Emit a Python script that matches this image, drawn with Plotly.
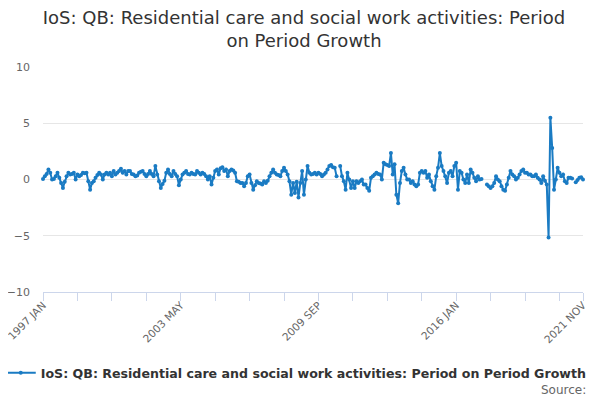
import plotly.graph_objects as go

# months Jan 1997 .. Nov 2021
years = list(range(1997, 2022))
months = ['JAN', 'FEB', 'MAR', 'APR', 'MAY', 'JUN', 'JUL', 'AUG', 'SEP', 'OCT', 'NOV', 'DEC']

# period on period growth (%), one list per year
g1997 = [0.05, 0.3, 0.5, 0.9, 0.6, 0.0, 0.05, 0.3, 0.6, 0.15, -0.3, -0.75]
g1998 = [-0.2, 0.3, 0.6, 0.45, 0.5, 0.6, 0.0, 0.45, 0.3, 0.4, 0.6, 0.55]
g1999 = [0.6, -0.15, -0.9, -0.3, -0.15, 0.15, 0.4, 0.6, 0.45, 0.0, 0.45, 0.6]
g2000 = [0.45, 0.6, 0.3, 0.75, 0.45, 0.6, 0.75, 0.95, 0.6, 0.75, 0.45, 0.75]
g2001 = [0.75, 0.5, 0.45, 0.3, 0.35, 0.6, 0.7, 0.75, 0.5, 0.3, 0.5, 0.75]
g2002 = [0.5, 0.3, 1.2, 0.45, -0.15, -0.75, -0.4, -0.1, 0.6, 0.9, 0.5, 0.3]
g2003 = [0.75, 0.5, 0.3, -0.5, 0.0, 0.45, 0.6, 0.75, 0.5, 0.45, 0.6, 0.5]
g2004 = [0.45, 0.75, 0.6, 0.45, 0.6, 0.5, 0.3, 0.0, 0.3, -0.45, 0.15, 0.75]
g2005 = [0.9, 0.45, 1.0, 1.1, 0.75, 0.9, 0.3, 0.75, 0.9, 0.8, 0.6, -0.15]
g2006 = [-0.2, -0.3, -0.3, -0.6, -0.3, 0.3, 0.45, -0.3, -0.9, -0.5, -0.15, -0.3]
g2007 = [-0.35, -0.45, -0.15, -0.3, -0.1, 0.3, 0.6, 0.9, 0.6, 0.45, 0.4, 0.3]
g2008 = [0.75, 1.05, 0.75, 0.45, -0.15, -1.35, -0.3, -1.2, -0.2, -1.6, -0.3, 0.75]
g2009 = [-1.35, 0.0, 1.2, 0.6, 0.45, 0.5, 0.6, 0.45, 0.6, 0.5, 0.3, 0.45]
g2010 = [0.6, 0.9, 1.2, 1.3, 1.1, 1.05, 0.3, None, 1.2, 0.3, -0.15, -0.9]
g2011 = [0.6, 0.0, -0.75, -0.15, -0.75, -0.15, -0.3, -0.15, 0.0, -0.45, -0.45, -0.75]
g2012 = [-1.0, 0.15, 0.3, 0.45, 0.6, 0.5, 0.45, 0.0, 1.5, 1.35, 1.3, 1.2]
g2013 = [2.35, 0.45, 1.35, -1.35, -2.1, -0.3, 0.75, 1.05, 0.45, 0.0, 0.0, -0.3]
g2014 = [-0.15, -0.45, -0.6, -0.45, 0.6, 0.75, 0.6, 0.75, 0.15, 0.45, -0.15, -0.6]
g2015 = [-0.9, 0.3, 1.05, 2.35, 1.2, 0.75, 0.3, -0.3, 0.6, 0.75, 0.3, 1.2]
g2016 = [1.5, -0.9, 0.75, 0.6, 0.0, -0.3, 0.45, -0.3, 0.9, 0.6, 0.15, -0.15]
g2017 = [0.3, 0.0, 0.05, None, None, -0.45, -0.6, -0.75, -0.6, -0.3, 0.3, 0.0]
g2018 = [-0.15, -0.6, -0.9, -1.0, -0.45, 0.15, 0.75, 0.45, 0.3, 0.0, 0.15, 0.45]
g2019 = [0.75, 0.9, 0.6, 0.6, 0.45, 0.45, 0.3, 0.3, 0.45, 0.15, 0.0, -0.3]
g2020 = [0.3, -0.1, -0.45, -5.15, 5.5, 2.8, -0.9, 0.0, 1.05, 0.6, 0.3, 0.45]
g2021 = [-0.15, -0.3, 0.15, 0.15, 0.1, None, -0.25, -0.05, 0.15, 0.2, 0.0]

growth = (g1997 + g1998 + g1999 + g2000 + g2001 + g2002 + g2003 + g2004 + g2005
          + g2006 + g2007 + g2008 + g2009 + g2010 + g2011 + g2012 + g2013 + g2014
          + g2015 + g2016 + g2017 + g2018 + g2019 + g2020 + g2021)

labels = [f'{y} {m}' for y in years for m in months][:len(growth)]

tick_idx = list(range(0, 286, 19)) + [len(labels) - 1]
tick_txt = [labels[i] if i % 76 == 0 or i == len(labels) - 1 else '' for i in tick_idx]

name = 'IoS: QB: Residential care and social work activities: Period on Period Growth'
blue = '#1a7bc3'

fig = go.Figure()
fig.add_trace(go.Scatter(
    x=labels, y=growth, name=name, mode='lines+markers',
    line=dict(color=blue, width=2),
    marker=dict(color=blue, size=4),
    connectgaps=False, cliponaxis=False,
    showlegend=True,
))

# page body adds an 8px margin, so the figure is 8px smaller each way
fig.update_layout(
    width=592, height=392,
    margin=dict(l=35, r=17, t=59, b=108, autoexpand=False),
    paper_bgcolor='white', plot_bgcolor='white',
    font=dict(family='DejaVu Sans', color='#666666'),
    title=dict(
        text='IoS: QB: Residential care and social work activities: Period<br>on Period Growth',
        x=0.5, xanchor='center', y=0.959, yanchor='top',
        font=dict(size=18, color='#333333'),
    ),
    xaxis=dict(
        type='category', range=[0, len(labels) - 1],
        tickmode='array', tickvals=[labels[i] for i in tick_idx], ticktext=tick_txt,
        tickangle=-45, tickfont=dict(size=10.6, color='#666666'),
        showline=True, linecolor='#ccd6eb', linewidth=1,
        ticks='outside', ticklen=8, tickcolor='#ccd6eb',
        ticklabelstandoff=-6,
        showgrid=False, zeroline=False, automargin=False,
    ),
    yaxis=dict(
        range=[-10, 10], tickvals=[-10, -5, 0, 5, 10],
        tickfont=dict(size=11, color='#666666'),
        gridcolor='#e6e6e6', gridwidth=1, zeroline=False, showline=False,
        ticklabelstandoff=12, automargin=False,
    ),
    legend=dict(
        orientation='h', x=0.469, xanchor='center', y=-0.36, yanchor='middle',
        itemwidth=30,
        font=dict(size=12.6, color='#333333', weight='bold'),
    ),
    annotations=[dict(
        text='Source:', xref='paper', yref='paper', x=1.009, y=-0.436,
        xanchor='right', yanchor='middle', showarrow=False,
        font=dict(size=12, color='#666666'),
    )],
)

fig.write_html('out.html')
